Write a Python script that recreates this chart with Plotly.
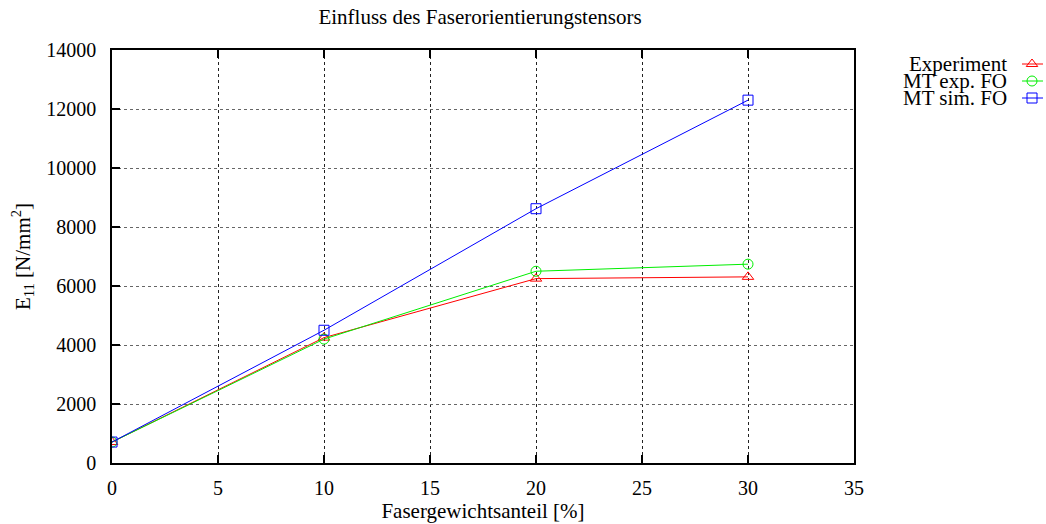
import plotly.graph_objects as go

# Fiber weight fraction [%] and Young's modulus E11 [N/mm^2]
faseranteil = [0, 10, 20, 30]
experiment = [710, 4250, 6250, 6310]
mt_exp_fo = [710, 4200, 6500, 6740]
mt_sim_fo = [710, 4500, 8620, 12300]

serien = [
    ("Experiment", experiment, "#ff0000", "triangle-up-open"),
    ("MT exp. FO", mt_exp_fo, "#00ee00", "circle-open"),
    ("MT sim. FO", mt_sim_fo, "#0000ff", "square-open"),
]

FONT = "Liberation Serif, DejaVu Serif, serif"
W, H = 1046, 524
L, R, T, B = 112, 0, 50, 61
PW, PH = W - L - R, H - T - B
X_RIGHT = 854  # right edge of the data frame in pixels


def px_x(p):
    return (p - L) / PW


def px_y(p):
    return (H - B - p) / PH


fig = go.Figure()
for name, werte, farbe, symbol in serien:
    fig.add_trace(go.Scatter(
        x=faseranteil, y=werte, mode="lines+markers", name=name,
        line=dict(color=farbe, width=1),
        marker=dict(symbol=symbol, size=10, color=farbe, line=dict(width=1, color=farbe)),
        showlegend=False,
    ))

# gnuplot-style key: right-aligned text with the sample to its right
key_rows = [64, 81, 98]
for (name, werte, farbe, symbol), row in zip(serien, key_rows):
    fig.add_trace(go.Scatter(
        x=[1022, 1043], y=[-row, -row], xaxis="x2", yaxis="y2", mode="lines",
        line=dict(color=farbe, width=1), showlegend=False, hoverinfo="skip",
    ))
    fig.add_trace(go.Scatter(
        x=[1032], y=[-row], xaxis="x2", yaxis="y2", mode="markers",
        marker=dict(symbol=symbol, size=10, color=farbe, line=dict(width=1, color=farbe)),
        showlegend=False, hoverinfo="skip",
    ))
    fig.add_annotation(
        x=px_x(1009), y=px_y(row), xref="paper", yref="paper", text=name, showarrow=False,
        xanchor="right", yanchor="middle", font=dict(family=FONT, size=21, color="black"),
    )

fig.update_layout(
    width=W, height=H,
    margin=dict(l=L, r=R, t=T, b=B, autoexpand=False),
    paper_bgcolor="white", plot_bgcolor="white",
    font=dict(family=FONT, size=20, color="black"),
    title=dict(text="Einfluss des Faserorientierungstensors", x=480 / W, xanchor="center",
               y=1 - 17 / H, yanchor="middle", font=dict(family=FONT, size=21)),
    xaxis=dict(
        domain=[0, px_x(X_RIGHT)],
        range=[0, 35], dtick=5, tick0=0,
        showgrid=True, gridcolor="#222222", griddash="dot", gridwidth=1,
        ticks="inside", ticklen=8, tickwidth=1.5, tickcolor="black",
        showline=True, linecolor="black", linewidth=1.5, mirror="ticks",
        zeroline=False, ticklabelstandoff=6,
        title=dict(text="Fasergewichtsanteil [%]", standoff=6, font=dict(family=FONT, size=21)),
        tickfont=dict(family=FONT, size=20),
    ),
    yaxis=dict(
        range=[0, 14000], dtick=2000, tick0=0, tickformat="d",
        showgrid=True, gridcolor="#666666", griddash="dot", gridwidth=1,
        ticks="inside", ticklen=8, tickwidth=1.5, tickcolor="black",
        showline=True, linecolor="black", linewidth=1.5, mirror=True,
        zeroline=False, ticklabelstandoff=10,
        title=dict(text="E<sub>11</sub> [N/mm<sup>2</sup>]", standoff=10, font=dict(family=FONT, size=21)),
        tickfont=dict(family=FONT, size=20),
    ),
    xaxis2=dict(domain=[px_x(1010), 1], range=[1010, W], visible=False, anchor="y2"),
    yaxis2=dict(domain=[px_y(120), 1], range=[-120, -T], visible=False, anchor="x2"),
)

fig.write_html("out.html")
